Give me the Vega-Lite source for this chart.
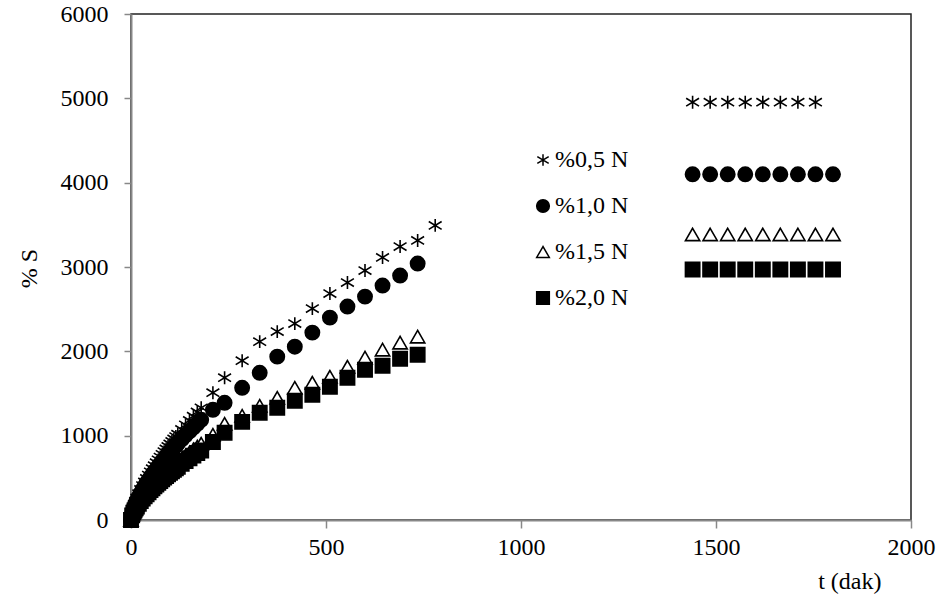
{
  "$schema": "https://vega.github.io/schema/vega-lite/v6.json",
  "width": 780,
  "height": 506,
  "autosize": {"type": "none"},
  "padding": {"left": 131, "top": 14, "right": 40, "bottom": 87},
  "background": "white",
  "config": {
    "view": {"stroke": "#222222", "strokeWidth": 1.5},
    "font": "Liberation Serif",
    "axis": {"labelFont": "Liberation Serif", "titleFont": "Liberation Serif"},
    "legend": {"labelFont": "Liberation Serif"}
  },
  "datasets": {
    "d": [
      {"s":"%0,5 N","t":0,"v":0},{"s":"%0,5 N","t":3,"v":89},{"s":"%0,5 N","t":6,"v":141},{"s":"%0,5 N","t":9,"v":184},{"s":"%0,5 N","t":12,"v":223},{"s":"%0,5 N","t":15,"v":258},{"s":"%0,5 N","t":20,"v":312},{"s":"%0,5 N","t":25,"v":362},{"s":"%0,5 N","t":30,"v":408},{"s":"%0,5 N","t":35,"v":451},{"s":"%0,5 N","t":40,"v":493},{"s":"%0,5 N","t":45,"v":533},{"s":"%0,5 N","t":50,"v":571},{"s":"%0,5 N","t":55,"v":608},{"s":"%0,5 N","t":60,"v":644},{"s":"%0,5 N","t":65,"v":679},{"s":"%0,5 N","t":70,"v":713},{"s":"%0,5 N","t":75,"v":747},{"s":"%0,5 N","t":80,"v":779},{"s":"%0,5 N","t":85,"v":811},{"s":"%0,5 N","t":90,"v":842},{"s":"%0,5 N","t":95,"v":872},{"s":"%0,5 N","t":100,"v":902},{"s":"%0,5 N","t":105,"v":932},{"s":"%0,5 N","t":110,"v":961},{"s":"%0,5 N","t":115,"v":990},{"s":"%0,5 N","t":120,"v":1018},{"s":"%0,5 N","t":130,"v":1074},{"s":"%0,5 N","t":140,"v":1128},{"s":"%0,5 N","t":150,"v":1180},{"s":"%0,5 N","t":160,"v":1231},{"s":"%0,5 N","t":170,"v":1281},{"s":"%0,5 N","t":180,"v":1331},{"s":"%0,5 N","t":210,"v":1509},{"s":"%0,5 N","t":240,"v":1687},{"s":"%0,5 N","t":285,"v":1889},{"s":"%0,5 N","t":330,"v":2115},{"s":"%0,5 N","t":375,"v":2234},{"s":"%0,5 N","t":420,"v":2329},{"s":"%0,5 N","t":465,"v":2507},{"s":"%0,5 N","t":510,"v":2685},{"s":"%0,5 N","t":555,"v":2816},{"s":"%0,5 N","t":600,"v":2958},{"s":"%0,5 N","t":645,"v":3113},{"s":"%0,5 N","t":690,"v":3243},{"s":"%0,5 N","t":735,"v":3315},{"s":"%0,5 N","t":780,"v":3493},
      {"s":"%0,5 N","t":1440,"v":4954},{"s":"%0,5 N","t":1485,"v":4954},{"s":"%0,5 N","t":1530,"v":4954},{"s":"%0,5 N","t":1575,"v":4954},{"s":"%0,5 N","t":1620,"v":4954},{"s":"%0,5 N","t":1665,"v":4954},{"s":"%0,5 N","t":1710,"v":4954},{"s":"%0,5 N","t":1755,"v":4954},
      {"s":"%1,0 N","t":0,"v":0},{"s":"%1,0 N","t":3,"v":79},{"s":"%1,0 N","t":6,"v":126},{"s":"%1,0 N","t":9,"v":164},{"s":"%1,0 N","t":12,"v":199},{"s":"%1,0 N","t":15,"v":230},{"s":"%1,0 N","t":20,"v":278},{"s":"%1,0 N","t":25,"v":322},{"s":"%1,0 N","t":30,"v":363},{"s":"%1,0 N","t":35,"v":401},{"s":"%1,0 N","t":40,"v":439},{"s":"%1,0 N","t":45,"v":474},{"s":"%1,0 N","t":50,"v":508},{"s":"%1,0 N","t":55,"v":541},{"s":"%1,0 N","t":60,"v":573},{"s":"%1,0 N","t":65,"v":604},{"s":"%1,0 N","t":70,"v":635},{"s":"%1,0 N","t":75,"v":665},{"s":"%1,0 N","t":80,"v":693},{"s":"%1,0 N","t":85,"v":722},{"s":"%1,0 N","t":90,"v":749},{"s":"%1,0 N","t":95,"v":776},{"s":"%1,0 N","t":100,"v":803},{"s":"%1,0 N","t":105,"v":829},{"s":"%1,0 N","t":110,"v":855},{"s":"%1,0 N","t":115,"v":881},{"s":"%1,0 N","t":120,"v":906},{"s":"%1,0 N","t":130,"v":956},{"s":"%1,0 N","t":140,"v":1004},{"s":"%1,0 N","t":150,"v":1050},{"s":"%1,0 N","t":160,"v":1096},{"s":"%1,0 N","t":170,"v":1140},{"s":"%1,0 N","t":180,"v":1188},{"s":"%1,0 N","t":210,"v":1307},{"s":"%1,0 N","t":240,"v":1390},{"s":"%1,0 N","t":285,"v":1568},{"s":"%1,0 N","t":330,"v":1746},{"s":"%1,0 N","t":375,"v":1937},{"s":"%1,0 N","t":420,"v":2055},{"s":"%1,0 N","t":465,"v":2222},{"s":"%1,0 N","t":510,"v":2400},{"s":"%1,0 N","t":555,"v":2531},{"s":"%1,0 N","t":600,"v":2649},{"s":"%1,0 N","t":645,"v":2780},{"s":"%1,0 N","t":690,"v":2899},{"s":"%1,0 N","t":735,"v":3041},
      {"s":"%1,0 N","t":1440,"v":4099},{"s":"%1,0 N","t":1485,"v":4099},{"s":"%1,0 N","t":1530,"v":4099},{"s":"%1,0 N","t":1575,"v":4099},{"s":"%1,0 N","t":1620,"v":4099},{"s":"%1,0 N","t":1665,"v":4099},{"s":"%1,0 N","t":1710,"v":4099},{"s":"%1,0 N","t":1755,"v":4099},{"s":"%1,0 N","t":1800,"v":4099},
      {"s":"%1,5 N","t":0,"v":0},{"s":"%1,5 N","t":3,"v":61},{"s":"%1,5 N","t":6,"v":96},{"s":"%1,5 N","t":9,"v":125},{"s":"%1,5 N","t":12,"v":152},{"s":"%1,5 N","t":15,"v":175},{"s":"%1,5 N","t":20,"v":212},{"s":"%1,5 N","t":25,"v":246},{"s":"%1,5 N","t":30,"v":277},{"s":"%1,5 N","t":35,"v":307},{"s":"%1,5 N","t":40,"v":335},{"s":"%1,5 N","t":45,"v":362},{"s":"%1,5 N","t":50,"v":388},{"s":"%1,5 N","t":55,"v":413},{"s":"%1,5 N","t":60,"v":438},{"s":"%1,5 N","t":65,"v":462},{"s":"%1,5 N","t":70,"v":485},{"s":"%1,5 N","t":75,"v":508},{"s":"%1,5 N","t":80,"v":530},{"s":"%1,5 N","t":85,"v":551},{"s":"%1,5 N","t":90,"v":573},{"s":"%1,5 N","t":95,"v":593},{"s":"%1,5 N","t":100,"v":613},{"s":"%1,5 N","t":105,"v":634},{"s":"%1,5 N","t":110,"v":653},{"s":"%1,5 N","t":115,"v":673},{"s":"%1,5 N","t":120,"v":692},{"s":"%1,5 N","t":130,"v":730},{"s":"%1,5 N","t":140,"v":767},{"s":"%1,5 N","t":150,"v":802},{"s":"%1,5 N","t":160,"v":837},{"s":"%1,5 N","t":170,"v":871},{"s":"%1,5 N","t":180,"v":905},{"s":"%1,5 N","t":210,"v":1010},{"s":"%1,5 N","t":240,"v":1141},{"s":"%1,5 N","t":285,"v":1236},{"s":"%1,5 N","t":330,"v":1354},{"s":"%1,5 N","t":375,"v":1449},{"s":"%1,5 N","t":420,"v":1568},{"s":"%1,5 N","t":465,"v":1628},{"s":"%1,5 N","t":510,"v":1699},{"s":"%1,5 N","t":555,"v":1818},{"s":"%1,5 N","t":600,"v":1925},{"s":"%1,5 N","t":645,"v":2020},{"s":"%1,5 N","t":690,"v":2103},{"s":"%1,5 N","t":735,"v":2174},
      {"s":"%1,5 N","t":1440,"v":3386},{"s":"%1,5 N","t":1485,"v":3386},{"s":"%1,5 N","t":1530,"v":3386},{"s":"%1,5 N","t":1575,"v":3386},{"s":"%1,5 N","t":1620,"v":3386},{"s":"%1,5 N","t":1665,"v":3386},{"s":"%1,5 N","t":1710,"v":3386},{"s":"%1,5 N","t":1755,"v":3386},{"s":"%1,5 N","t":1800,"v":3386},
      {"s":"%2,0 N","t":0,"v":0},{"s":"%2,0 N","t":3,"v":55},{"s":"%2,0 N","t":6,"v":87},{"s":"%2,0 N","t":9,"v":114},{"s":"%2,0 N","t":12,"v":138},{"s":"%2,0 N","t":15,"v":160},{"s":"%2,0 N","t":20,"v":193},{"s":"%2,0 N","t":25,"v":224},{"s":"%2,0 N","t":30,"v":253},{"s":"%2,0 N","t":35,"v":280},{"s":"%2,0 N","t":40,"v":306},{"s":"%2,0 N","t":45,"v":330},{"s":"%2,0 N","t":50,"v":354},{"s":"%2,0 N","t":55,"v":377},{"s":"%2,0 N","t":60,"v":399},{"s":"%2,0 N","t":65,"v":421},{"s":"%2,0 N","t":70,"v":442},{"s":"%2,0 N","t":75,"v":463},{"s":"%2,0 N","t":80,"v":483},{"s":"%2,0 N","t":85,"v":503},{"s":"%2,0 N","t":90,"v":522},{"s":"%2,0 N","t":95,"v":541},{"s":"%2,0 N","t":100,"v":559},{"s":"%2,0 N","t":105,"v":578},{"s":"%2,0 N","t":110,"v":596},{"s":"%2,0 N","t":115,"v":614},{"s":"%2,0 N","t":120,"v":631},{"s":"%2,0 N","t":130,"v":666},{"s":"%2,0 N","t":140,"v":699},{"s":"%2,0 N","t":150,"v":732},{"s":"%2,0 N","t":160,"v":763},{"s":"%2,0 N","t":170,"v":794},{"s":"%2,0 N","t":180,"v":825},{"s":"%2,0 N","t":210,"v":925},{"s":"%2,0 N","t":240,"v":1034},{"s":"%2,0 N","t":285,"v":1164},{"s":"%2,0 N","t":330,"v":1271},{"s":"%2,0 N","t":375,"v":1331},{"s":"%2,0 N","t":420,"v":1414},{"s":"%2,0 N","t":465,"v":1485},{"s":"%2,0 N","t":510,"v":1580},{"s":"%2,0 N","t":555,"v":1687},{"s":"%2,0 N","t":600,"v":1782},{"s":"%2,0 N","t":645,"v":1830},{"s":"%2,0 N","t":690,"v":1913},{"s":"%2,0 N","t":735,"v":1960},
      {"s":"%2,0 N","t":1440,"v":2970},{"s":"%2,0 N","t":1485,"v":2970},{"s":"%2,0 N","t":1530,"v":2970},{"s":"%2,0 N","t":1575,"v":2970},{"s":"%2,0 N","t":1620,"v":2970},{"s":"%2,0 N","t":1665,"v":2970},{"s":"%2,0 N","t":1710,"v":2970},{"s":"%2,0 N","t":1755,"v":2970},{"s":"%2,0 N","t":1800,"v":2970}
    ]
  },
  "data": {"name": "d"},
  "mark": {"type": "point", "stroke": "black", "strokeWidth": 1.6, "opacity": 1, "size": 205},
  "encoding": {
    "x": {
      "field": "t", "type": "quantitative",
      "scale": {"domain": [0, 2000], "nice": false, "zero": false},
      "axis": {
        "values": [0, 500, 1000, 1500, 2000],
        "format": "d",
        "grid": false,
        "domainColor": "#888888", "domainWidth": 2,
        "tickColor": "#888888", "tickWidth": 1.5, "tickSize": 8,
        "labelFont": "Liberation Serif", "labelFontSize": 24, "labelColor": "black", "labelPadding": 7,
        "labelFlush": false,
        "title": "t (dak)",
        "titleFont": "Liberation Serif", "titleFontSize": 24, "titleFontWeight": "normal", "titleColor": "black",
        "titleAlign": "right", "titleBaseline": "middle", "titleX": 750, "titleY": 61
      }
    },
    "y": {
      "field": "v", "type": "quantitative",
      "scale": {"domain": [0, 6000], "nice": false},
      "axis": {
        "values": [0, 1000, 2000, 3000, 4000, 5000, 6000],
        "format": "d",
        "grid": false,
        "domainColor": "#888888", "domainWidth": 2,
        "tickColor": "#888888", "tickWidth": 1.5, "tickSize": 7,
        "labelFont": "Liberation Serif", "labelFontSize": 24, "labelColor": "black", "labelPadding": 16,
        "labelFlush": false,
        "title": "% S",
        "titleFont": "Liberation Serif", "titleFontSize": 24, "titleFontWeight": "normal", "titleColor": "black",
        "titleAngle": -90, "titleAlign": "center", "titleBaseline": "middle", "titleX": -102, "titleY": 254
      }
    },
    "shape": {
      "field": "s", "type": "nominal",
      "scale": {
        "domain": ["%0,5 N", "%1,0 N", "%1,5 N", "%2,0 N"],
        "range": ["M-0.9,-0.55L0.9,0.55M-0.9,0.55L0.9,-0.55M0,-0.9L0,0.9", "circle", "triangle-up", "square"]
      },
      "legend": {
        "title": null, "orient": "none", "legendX": 400, "legendY": 134,
        "labelFont": "Liberation Serif", "labelFontSize": 24, "labelColor": "black",
        "labelOffset": 0, "rowPadding": 22, "padding": 0,
        "symbolSize": 160,
        "encode": {"symbols": {"update": {"stroke": {"value": "black"}, "strokeWidth": {"value": 1.5}}}}
      }
    },
    "fill": {
      "field": "s", "type": "nominal",
      "scale": {
        "domain": ["%0,5 N", "%1,0 N", "%1,5 N", "%2,0 N"],
        "range": ["transparent", "black", "white", "black"]
      },
      "legend": {
        "title": null, "orient": "none", "legendX": 400, "legendY": 134,
        "labelFont": "Liberation Serif", "labelFontSize": 24, "labelColor": "black",
        "labelOffset": 0, "rowPadding": 22, "padding": 0,
        "symbolSize": 160,
        "encode": {"symbols": {"update": {"stroke": {"value": "black"}, "strokeWidth": {"value": 1.5}}}}
      }
    }
  }
}
